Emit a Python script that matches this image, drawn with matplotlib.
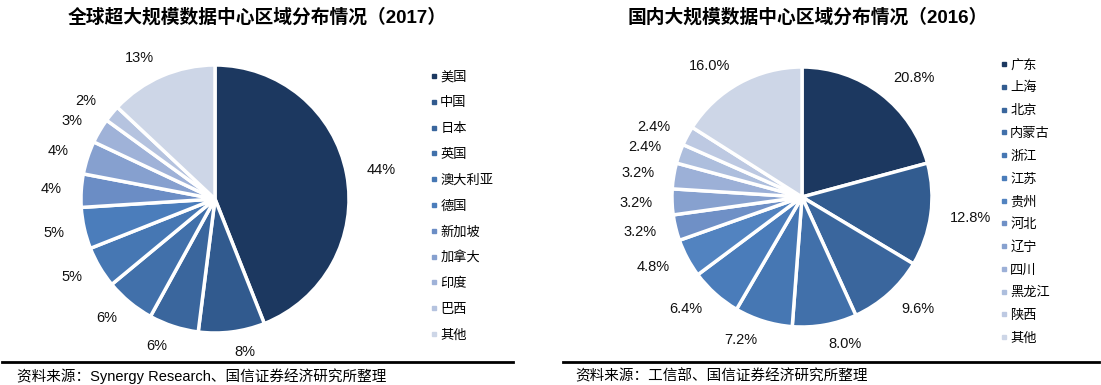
import matplotlib.pyplot as plt
from matplotlib.lines import Line2D

plt.rcParams['font.family'] = ['Liberation Sans', 'Noto Sans CJK SC', 'DejaVu Sans']

# Left chart data
world_regions = ["美国", "中国", "日本", "英国", "澳大利亚", "德国", "新加坡", "加拿大", "印度", "巴西", "其他"]
world_share = [44, 8, 6, 6, 5, 5, 4, 4, 3, 2, 13]
world_colors = ["#1c3860", "#315a8e", "#3a669d", "#4170aa", "#4677b3", "#4b7dbb",
                "#6b8dc5", "#86a0cf", "#9fb2d8", "#b5c3df", "#cdd6e7"]

# Right chart data
china_regions = ["广东", "上海", "北京", "内蒙古", "浙江", "江苏", "贵州", "河北", "辽宁",
                 "四川", "黑龙江", "陕西", "其他"]
china_share = [20.8, 12.8, 9.6, 8.0, 7.2, 6.4, 4.8, 3.2, 3.2, 3.2, 2.4, 2.4, 16.0]
china_colors = ["#1c3860", "#325c90", "#3a669d", "#4170aa", "#4677b3", "#4a7cba",
                "#5283c0", "#6f90c6", "#87a1cf", "#9cb0d7", "#adbedd", "#bdc9e2", "#cdd6e7"]

W, H = 1101, 385
fig = plt.figure(figsize=(W / 100, H / 100), dpi=100)


def draw(cx, cy, r, values, colors, fmt, dist):
    # axes centred at pixel (cx, cy), pie radius r pixels
    half = 180
    ax = fig.add_axes([(cx - half) / W, 1 - (cy + half) / H, 2 * half / W, 2 * half / H])
    ax.pie(values, colors=colors, startangle=90, counterclock=False,
           labels=[fmt.format(v) for v in values], labeldistance=dist,
           wedgeprops=dict(edgecolor='white', linewidth=2.5),
           textprops=dict(fontsize=10.5, color='#111111'))
    ax.set_xlim(-half / r, half / r)
    ax.set_ylim(-half / r, half / r)
    ax.set_aspect('equal')
    ax.axis('off')
    return ax


draw(215, 199, 134, world_share, world_colors, "{:d}%", 1.15)
draw(802, 197, 130, china_share, china_colors, "{:.1f}%", 1.15)


def legend(labels, colors, x, y, spacing):
    handles = [Line2D([], [], marker='s', markersize=3, linestyle='none', color=c) for c in colors]
    fig.legend(handles, labels, loc='upper left', bbox_to_anchor=(x / W, 1 - y / H),
               frameon=False, handlelength=0.6, handletextpad=0.2, borderpad=0,
               labelspacing=spacing, prop=dict(family='Noto Sans CJK SC', size=9.5))


legend(world_regions, world_colors, 423, 64, 0.97)
legend(china_regions, china_colors, 993, 52, 0.74)

fig.text(257 / W, 1 - 17 / H, "全球超大规模数据中心区域分布情况（2017）", ha='center', va='center',
         fontsize=13.5, fontweight='bold', family=['Liberation Sans', 'Noto Sans CJK SC'])
fig.text(808 / W, 1 - 17 / H, "国内大规模数据中心区域分布情况（2016）", ha='center', va='center',
         fontsize=13.5, fontweight='bold', family=['Liberation Sans', 'Noto Sans CJK SC'])

fig.add_artist(Line2D([2 / W, 513 / W], [1 - 362 / H] * 2, color='black', linewidth=2))
fig.add_artist(Line2D([563 / W, 1099 / W], [1 - 362 / H] * 2, color='black', linewidth=2))

fig.text(17 / W, 1 - 376 / H, "资料来源：Synergy Research、国信证券经济研究所整理", ha='left', va='center',
         fontsize=10.5, family=['Liberation Sans', 'Noto Sans CJK SC'])
fig.text(575 / W, 1 - 376 / H, "资料来源：工信部、国信证券经济研究所整理", ha='left', va='center',
         fontsize=10.5, family=['Noto Sans CJK SC'])

plt.savefig("out.png", dpi=100)
